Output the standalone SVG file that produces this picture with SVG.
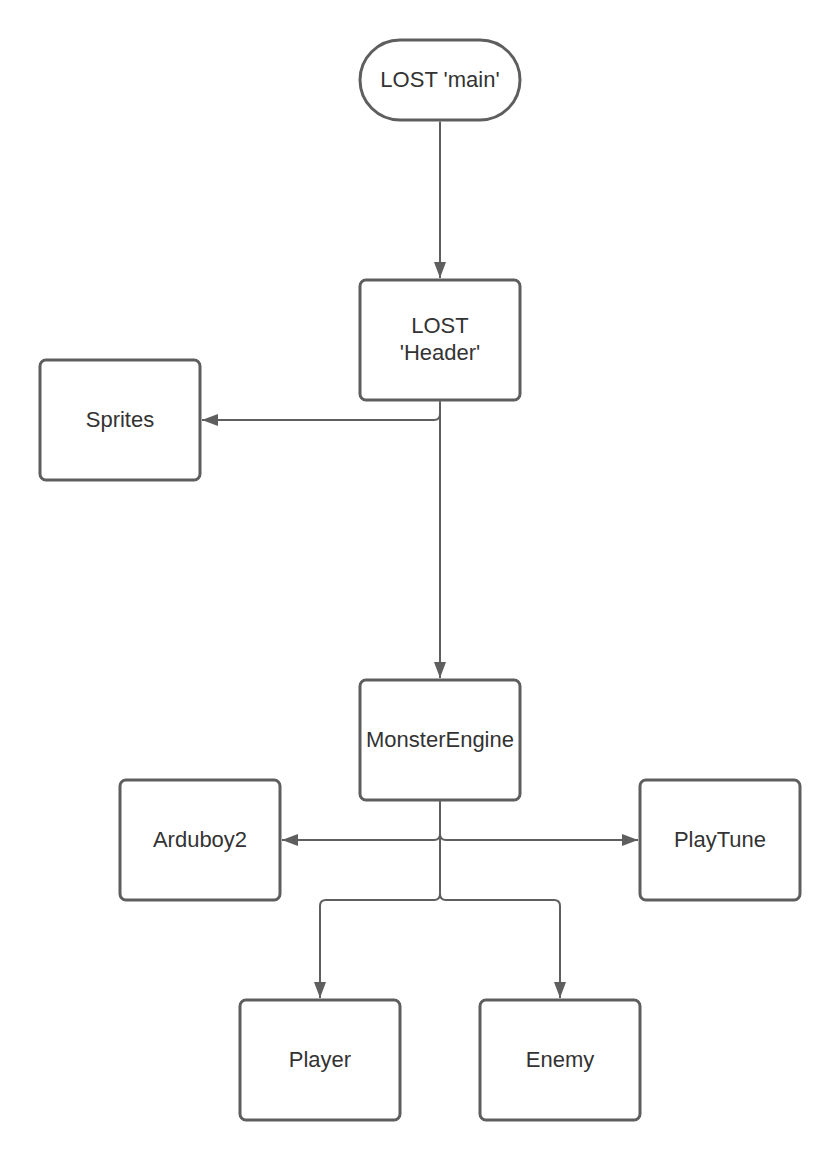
<svg xmlns="http://www.w3.org/2000/svg" width="840" height="1160" viewBox="0 0 840 1160">
<style>
.box{fill:#fff;stroke:#5e5e5e;stroke-width:3}
.lbl{font-family:"Liberation Sans",Arial,sans-serif;font-size:22px;fill:#333;text-anchor:middle;dominant-baseline:central}
.conn path{fill:none;stroke:#5e5e5e;stroke-width:2}
</style>
<defs>
<marker id="arr" markerWidth="17" markerHeight="13" refX="16" refY="6.5" orient="auto" markerUnits="userSpaceOnUse">
<path d="M0,0.5 L16,6.5 L0,12.5 z" fill="#5e5e5e"/>
</marker>
</defs>
<rect width="840" height="1160" fill="#fff"/>
<g class="conn">
<path d="M440,121.5 V278" marker-end="url(#arr)"/>
<path d="M440,401.5 V678" marker-end="url(#arr)"/>
<path d="M440,401.5 V414 Q440,420 434,420 H202" marker-end="url(#arr)"/>
<path d="M440,801.5 V834 Q440,840 434,840 H282" marker-end="url(#arr)"/>
<path d="M440,801.5 V834 Q440,840 446,840 H638" marker-end="url(#arr)"/>
<path d="M440,801.5 V894 Q440,900 434,900 H326 Q320,900 320,906 V998" marker-end="url(#arr)"/>
<path d="M440,801.5 V894 Q440,900 446,900 H554 Q560,900 560,906 V998" marker-end="url(#arr)"/>
</g>
<g id="main"><rect class="box" x="360" y="40" width="160" height="80" rx="40"/><text class="lbl" x="440" y="79">LOST 'main'</text></g>
<g id="header"><rect class="box" x="360" y="280" width="160" height="120" rx="6"/><text class="lbl" x="440" y="325">LOST</text><text class="lbl" x="440" y="352">'Header'</text></g>
<g id="sprites"><rect class="box" x="40" y="360" width="160" height="120" rx="6"/><text class="lbl" x="120" y="419">Sprites</text></g>
<g id="monsterengine"><rect class="box" x="360" y="680" width="160" height="120" rx="6"/><text class="lbl" x="440" y="739">MonsterEngine</text></g>
<g id="arduboy2"><rect class="box" x="120" y="780" width="160" height="120" rx="6"/><text class="lbl" x="200" y="839">Arduboy2</text></g>
<g id="playtune"><rect class="box" x="640" y="780" width="160" height="120" rx="6"/><text class="lbl" x="720" y="839">PlayTune</text></g>
<g id="player"><rect class="box" x="240" y="1000" width="160" height="120" rx="6"/><text class="lbl" x="320" y="1059">Player</text></g>
<g id="enemy"><rect class="box" x="480" y="1000" width="160" height="120" rx="6"/><text class="lbl" x="560" y="1059">Enemy</text></g>
</svg>
